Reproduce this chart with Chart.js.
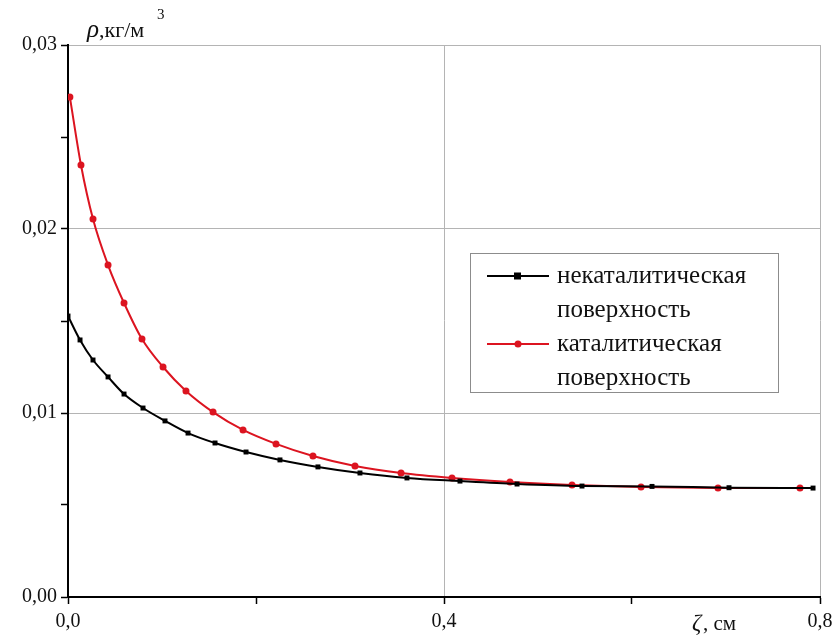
<!DOCTYPE html>
<html>
<head>
<meta charset="utf-8">
<script src="https://cdn.jsdelivr.net/npm/chart.js@4.4.1/dist/chart.umd.min.js"></script>
<style>
  html, body { margin: 0; padding: 0; background: #fff; }
  #wrap { width: 836px; height: 637px; }
</style>
</head>
<body>
<div id="wrap"><canvas id="chart" width="836" height="637"></canvas></div>
<script>
// некаталитическая поверхность
const xBlack = [0, 0.0128, 0.0266, 0.0426, 0.0596, 0.0798, 0.1032, 0.1277, 0.1564, 0.1894,
                0.2255, 0.2659, 0.3106, 0.3606, 0.4170, 0.4777, 0.5468, 0.6213, 0.7032, 0.7926];
const yBlack = [0.01527, 0.01397, 0.01288, 0.01196, 0.01103, 0.01027, 0.00957, 0.00891, 0.00837, 0.00788,
                0.00745, 0.00707, 0.00674, 0.00647, 0.00630, 0.00614, 0.00603, 0.00601, 0.00594, 0.00592];

// каталитическая поверхность
const xRed = [0.002, 0.0138, 0.0266, 0.0426, 0.0596, 0.0787, 0.1011, 0.1255, 0.1543, 0.1862,
              0.2213, 0.2606, 0.3053, 0.3543, 0.4085, 0.4702, 0.5362, 0.6096, 0.6915, 0.7787];
const yRed = [0.02717, 0.02348, 0.02054, 0.01804, 0.01598, 0.01402, 0.01250, 0.01120, 0.01005, 0.00908,
              0.00832, 0.00766, 0.00712, 0.00674, 0.00647, 0.00625, 0.00609, 0.00598, 0.00593, 0.00592];

const seriesLabels = [['некаталитическая', 'поверхность'], ['каталитическая', 'поверхность']];
const xTickLabels = [0, 0.4, 0.8];
const yTickLabels = [0, 0.01, 0.02, 0.03];

const SERIF = '"Liberation Serif", "DejaVu Serif", serif';
const RED = '#dc1420';
const GRID = '#b4b4b4';

function near(v, list) {
    return list.some(t => Math.abs(v - t) < 1e-9);
}
function fmt(v, digits) {
    return v.toFixed(digits).replace('.', ',');
}

// Legend with two-line labels plus axis titles
const decorPlugin = {
    id: 'decor',
    afterDraw(chart) {
        const ctx = chart.ctx;
        ctx.save();

        // legend box
        const bx = 470, by = 253, bw = 308, bh = 139;
        ctx.fillStyle = '#fff';
        ctx.fillRect(bx, by, bw, bh);
        ctx.strokeStyle = '#8c8c8c';
        ctx.lineWidth = 1;
        ctx.strokeRect(bx + 0.5, by + 0.5, bw, bh);

        ctx.font = '25px ' + SERIF;
        ctx.textBaseline = 'middle';
        ctx.textAlign = 'left';
        const rows = [276, 344];
        chart.data.datasets.forEach((ds, i) => {
            const y = rows[i];
            ctx.strokeStyle = ds.borderColor;
            ctx.lineWidth = 2;
            ctx.beginPath();
            ctx.moveTo(487, y);
            ctx.lineTo(549, y);
            ctx.stroke();
            ctx.fillStyle = ds.borderColor;
            if (ds.pointStyle === 'rect') {
                ctx.fillRect(514, y - 3.5, 7, 7);
            } else {
                ctx.beginPath();
                ctx.arc(518, y, 3.5, 0, Math.PI * 2);
                ctx.fill();
            }
            ctx.fillStyle = '#111';
            seriesLabels[i].forEach((line, k) => {
                ctx.fillText(line, 557, y + k * 34);
            });
        });

        // y axis title
        ctx.fillStyle = '#111';
        ctx.textBaseline = 'alphabetic';
        ctx.font = 'italic 25px ' + SERIF;
        ctx.fillText('ρ', 87, 37);
        ctx.font = '22px ' + SERIF;
        ctx.fillText(',кг/м', 99, 37);
        ctx.font = '15px ' + SERIF;
        ctx.fillText('3', 157, 19);

        // x axis title
        ctx.font = 'italic 23px ' + SERIF;
        ctx.fillText('ζ', 692, 630);
        ctx.font = '21px ' + SERIF;
        ctx.fillText(', см', 703, 630);

        ctx.restore();
    }
};

const chart = new Chart(document.getElementById('chart'), {
    type: 'line',
    data: {
        datasets: [
            {
                label: seriesLabels[0].join(' '),
                data: xBlack.map((x, i) => ({ x, y: yBlack[i] })),
                borderColor: '#000',
                backgroundColor: '#000',
                borderWidth: 2,
                pointStyle: 'rect',
                pointRadius: 3.5,
                pointBorderWidth: 0,
                cubicInterpolationMode: 'monotone'
            },
            {
                label: seriesLabels[1].join(' '),
                data: xRed.map((x, i) => ({ x, y: yRed[i] })),
                borderColor: RED,
                backgroundColor: RED,
                borderWidth: 2,
                pointStyle: 'circle',
                pointRadius: 3.5,
                pointBorderWidth: 0,
                cubicInterpolationMode: 'monotone'
            }
        ]
    },
    options: {
        responsive: false,
        animation: false,
        layout: { padding: { top: 45, right: 16, left: 0, bottom: 0 } },
        plugins: {
            legend: { display: false },
            tooltip: { enabled: false }
        },
        scales: {
            x: {
                type: 'linear',
                min: 0,
                max: 0.8,
                afterFit: scale => {
                    scale.height = 40;
                    scale.paddingLeft = 0;
                    scale.paddingRight = 0;
                },
                ticks: {
                    stepSize: 0.2,
                    autoSkip: false,
                    maxRotation: 0,
                    padding: 6,
                    color: '#111',
                    font: { family: SERIF, size: 20 },
                    callback: v => near(v, xTickLabels) ? fmt(v, 1) : ''
                },
                grid: {
                    color: c => (c.tick && near(c.tick.value, [0.4, 0.8])) ? GRID : 'rgba(0,0,0,0)',
                    tickColor: '#000',
                    tickLength: 7,
                    tickWidth: 1.5
                },
                border: { color: '#000', width: 2 }
            },
            y: {
                min: 0,
                max: 0.03,
                afterFit: scale => {
                    scale.width = 68;
                    scale.paddingTop = 0;
                    scale.paddingBottom = 0;
                },
                ticks: {
                    stepSize: 0.005,
                    autoSkip: false,
                    padding: 4,
                    color: '#111',
                    font: { family: SERIF, size: 20 },
                    callback: v => near(v, yTickLabels) ? fmt(v, 2) : ''
                },
                grid: {
                    color: c => (c.tick && near(c.tick.value, [0.01, 0.02, 0.03])) ? GRID : 'rgba(0,0,0,0)',
                    tickColor: '#000',
                    tickLength: 7,
                    tickWidth: 1.5
                },
                border: { color: '#000', width: 2 }
            }
        }
    },
    plugins: [decorPlugin]
});
</script>
</body>
</html>
